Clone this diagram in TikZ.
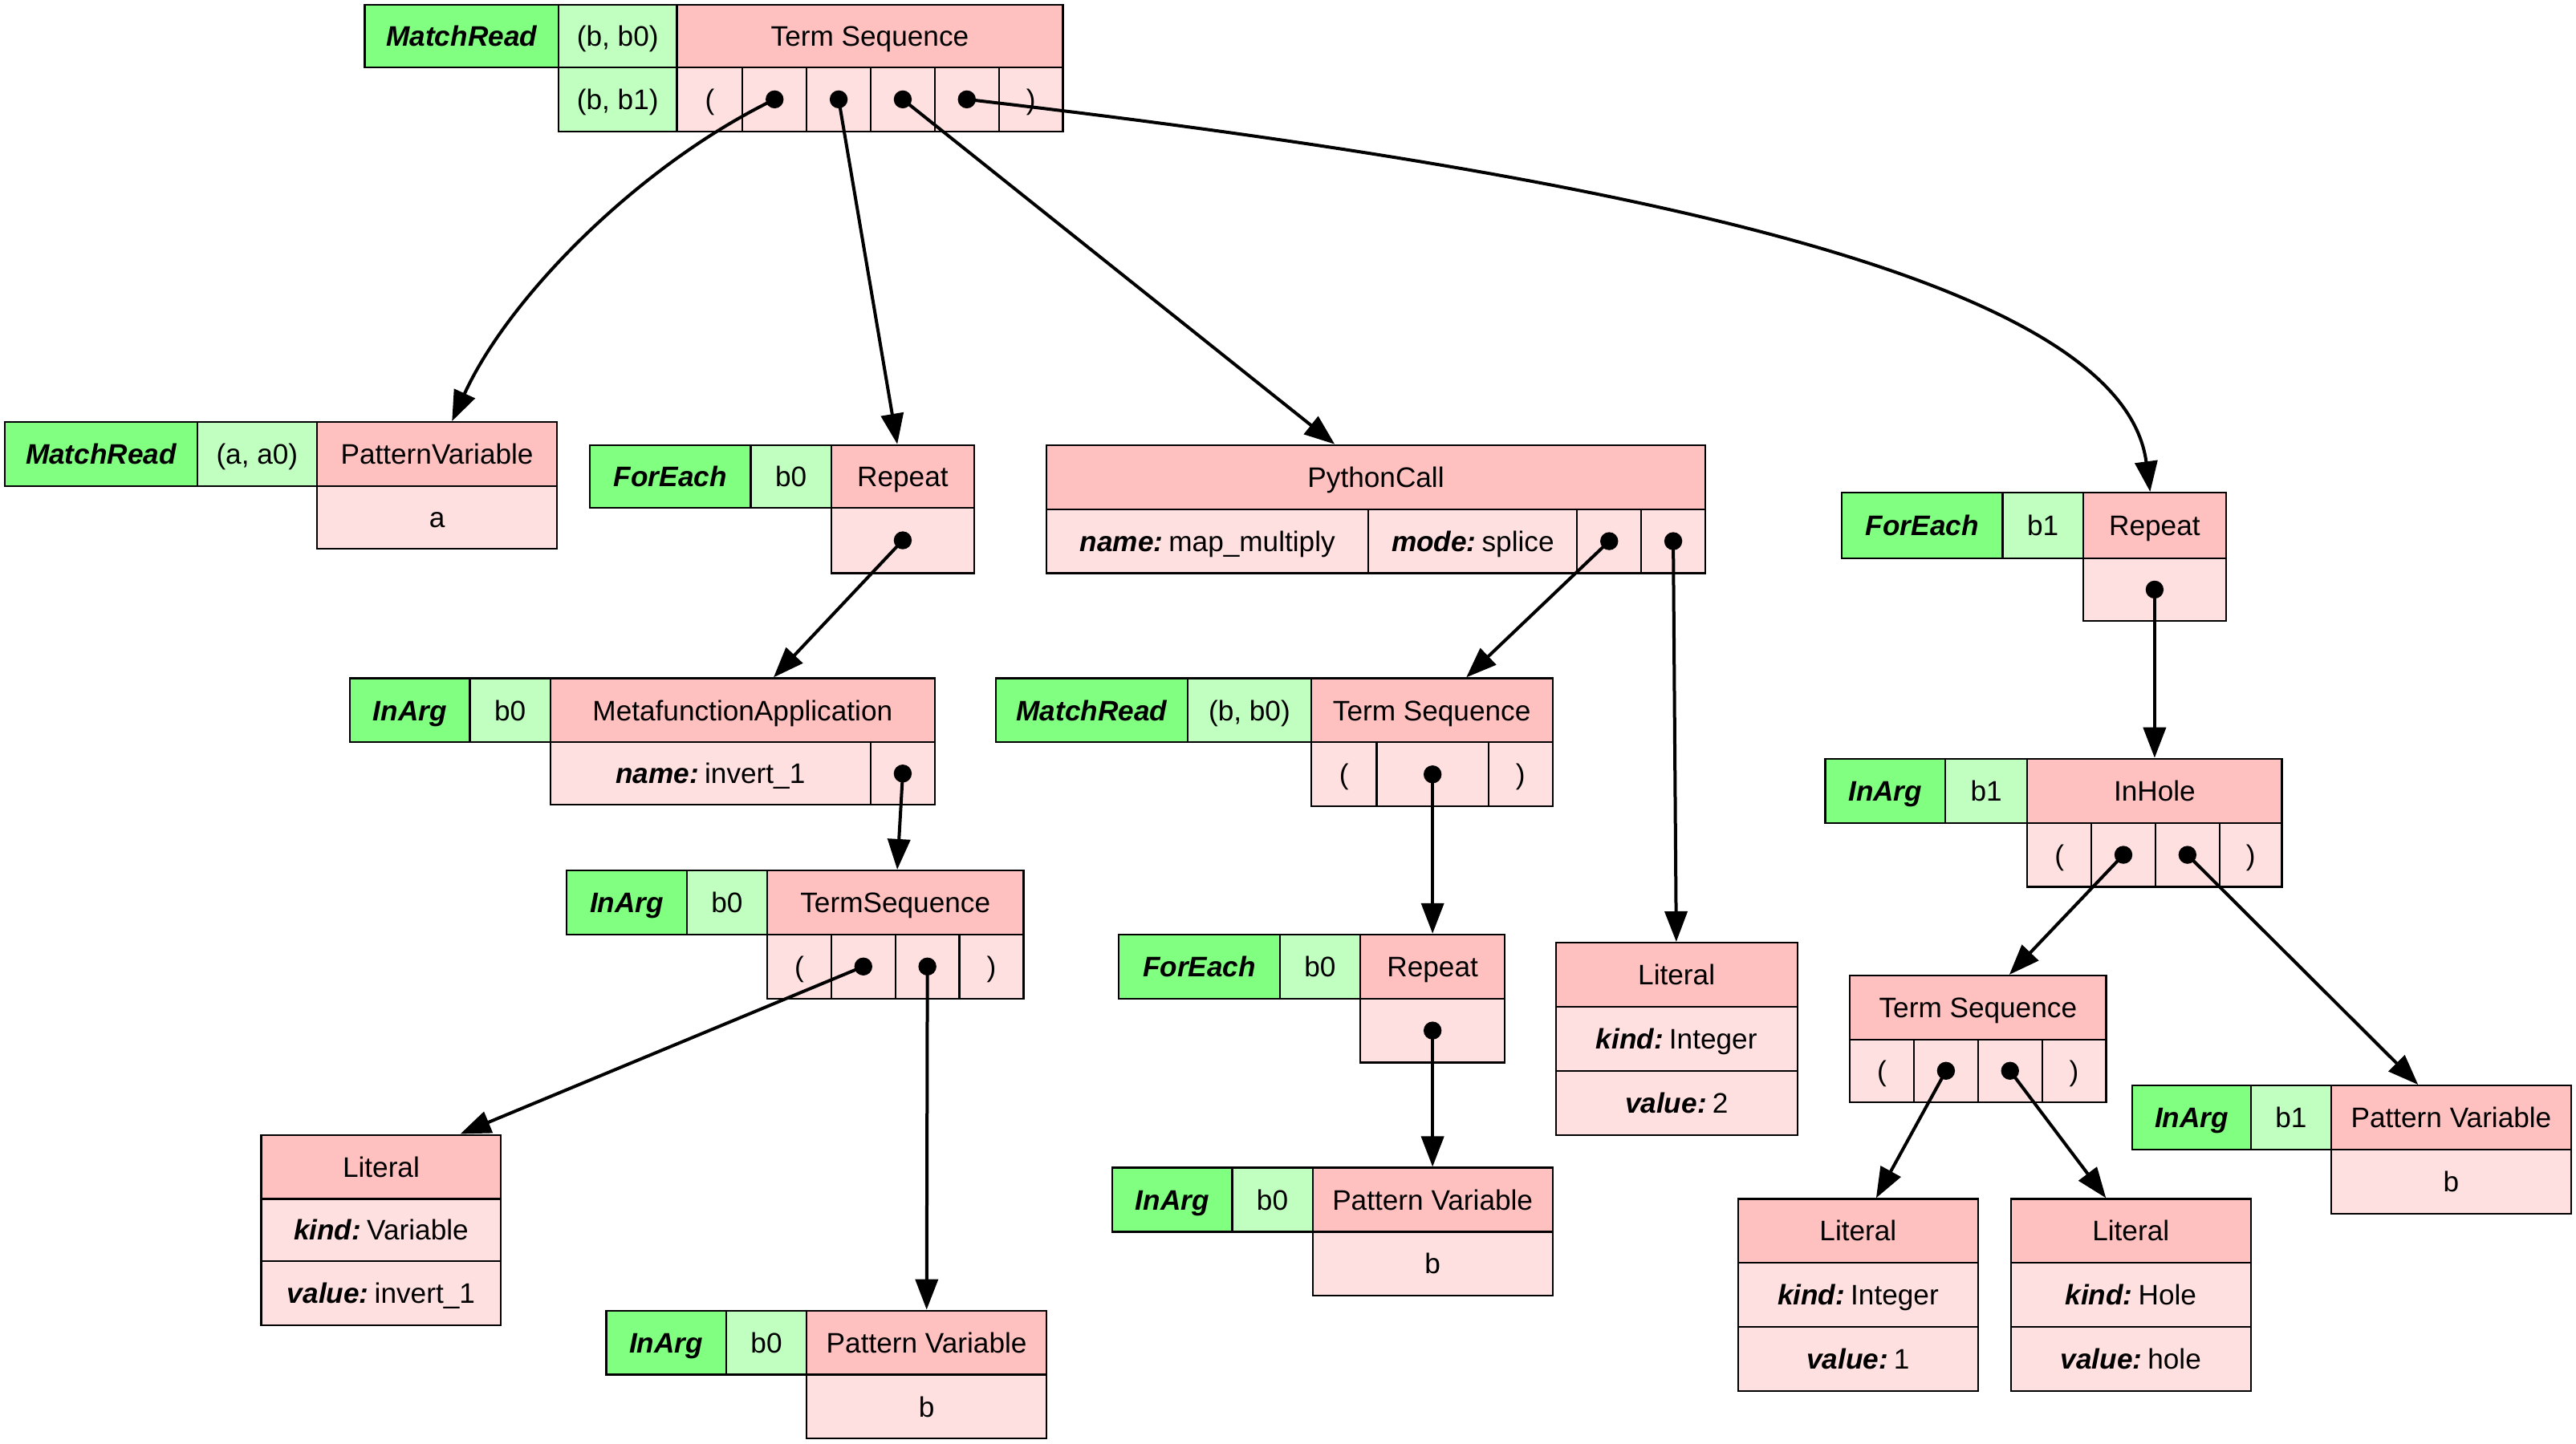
\documentclass[tikz,border=0pt]{standalone}
\usepackage{fontspec}
\setmainfont{Liberation Sans}
\usetikzlibrary{arrows.meta,fit}
\definecolor{tagfill}{RGB}{128,255,128}
\definecolor{varfill}{RGB}{192,255,192}
\definecolor{headfill}{RGB}{255,192,192}
\definecolor{bodyfill}{RGB}{255,224,224}
\newcommand\kw[1]{{\bfseries\itshape #1}}
% a field: bold italic key, then its value
\newcommand\kv[2]{\kw{#1:}\hspace{0.2em}#2}
% one record cell: style, name, corners (x1,y1) (x2,y2), text
\newcommand\rcell[7]{\node[#1, fit={(#3,#4) (#5,#6)}, label={[celltext]center:#7}] (#2) {};}
\begin{document}
\begin{tikzpicture}[x=0.5118pt,y=-0.5118pt,
  font=\fontsize{8.8}{10.5}\selectfont,
  celltext/.style={inner sep=0pt, text height=6.3pt, text depth=0pt,
                   font=\fontsize{8.8}{10.5}\selectfont},
  cell/.style={draw=black, line width=0.55pt, inner sep=0pt},
  tag/.style={cell, fill=tagfill},
  var/.style={cell, fill=varfill},
  head/.style={cell, fill=headfill},
  body/.style={cell, fill=bodyfill},
  tail/.style={circle, fill=black, inner sep=0pt, minimum size=5.6pt},
  edge/.style={line width=1pt, -{Triangle[length=9.5pt,width=7pt]}}]
\useasboundingbox (0,0) rectangle (1568,879);

% --- top: MatchRead (b, b0) Term Sequence
\rcell{tag}{t0tag}{222}{3}{340}{41}{\kw{MatchRead}}
\rcell{var}{t0var}{340}{3}{412}{41}{(b, b0)}
\rcell{head}{t0h}{412}{3}{647}{41}{Term Sequence}
\rcell{var}{t0var2}{340}{41}{412}{80}{(b, b1)}
\rcell{body}{t0c0}{412}{41}{452}{80}{(}
\rcell{body}{t0c1}{452}{41}{491}{80}{}
\rcell{body}{t0c2}{491}{41}{530}{80}{}
\rcell{body}{t0c3}{530}{41}{569}{80}{}
\rcell{body}{t0c4}{569}{41}{608}{80}{}
\rcell{body}{t0c5}{608}{41}{647}{80}{)}
\node[tail] (t0d1) at (t0c1) {};
\node[tail] (t0d2) at (t0c2) {};
\node[tail] (t0d3) at (t0c3) {};
\node[tail] (t0d4) at (t0c4) {};

% --- MatchRead (a, a0) PatternVariable
\rcell{tag}{pvatag}{3}{257}{120}{296}{\kw{MatchRead}}
\rcell{var}{pvavar}{120}{257}{193}{296}{(a, a0)}
\rcell{head}{pvah}{193}{257}{339}{296}{PatternVariable}
\rcell{body}{pvab}{193}{296}{339}{334}{a}

% --- ForEach b0 Repeat
\rcell{tag}{r1tag}{359}{271}{457}{309}{\kw{ForEach}}
\rcell{var}{r1var}{457}{271}{506}{309}{b0}
\rcell{head}{r1h}{506}{271}{593}{309}{Repeat}
\rcell{body}{r1b}{506}{309}{593}{349}{}
\node[tail] (r1d) at (r1b) {};

% --- InArg b0 MetafunctionApplication
\rcell{tag}{mftag}{213}{413}{286}{452}{\kw{InArg}}
\rcell{var}{mfvar}{286}{413}{335}{452}{b0}
\rcell{head}{mfh}{335}{413}{569}{452}{MetafunctionApplication}
\rcell{body}{mfname}{335}{452}{530}{490}{\kv{name}{invert\_1}}
\rcell{body}{mfb}{530}{452}{569}{490}{}
\node[tail] (mfd) at (mfb) {};

% --- InArg b0 TermSequence
\rcell{tag}{tstag}{345}{530}{418}{569}{\kw{InArg}}
\rcell{var}{tsvar}{418}{530}{467}{569}{b0}
\rcell{head}{tsh}{467}{530}{623}{569}{TermSequence}
\rcell{body}{tsc0}{467}{569}{506}{608}{(}
\rcell{body}{tsc1}{506}{569}{545}{608}{}
\rcell{body}{tsc2}{545}{569}{584}{608}{}
\rcell{body}{tsc3}{584}{569}{623}{608}{)}
\node[tail] (tsd1) at (tsc1) {};
\node[tail] (tsd2) at (tsc2) {};

% --- Literal Variable
\rcell{head}{lvh}{159}{691}{305}{730}{Literal}
\rcell{body}{lvk}{159}{730}{305}{768}{\kv{kind}{Variable}}
\rcell{body}{lvv}{159}{768}{305}{807}{\kv{value}{invert\_1}}

% --- InArg b0 Pattern Variable (bottom left)
\rcell{tag}{pvltag}{369}{798}{442}{837}{\kw{InArg}}
\rcell{var}{pvlvar}{442}{798}{491}{837}{b0}
\rcell{head}{pvlh}{491}{798}{637}{837}{Pattern Variable}
\rcell{body}{pvlb}{491}{837}{637}{876}{b}

% --- PythonCall
\rcell{head}{pyh}{637}{271}{1038}{310}{PythonCall}
\rcell{body}{pyn}{637}{310}{833}{349}{\kv{name}{map\_multiply}}
\rcell{body}{pym}{833}{310}{960}{349}{\kv{mode}{splice}}
\rcell{body}{pyc1}{960}{310}{999}{349}{}
\rcell{body}{pyc2}{999}{310}{1038}{349}{}
\node[tail] (pyd1) at (pyc1) {};
\node[tail] (pyd2) at (pyc2) {};

% --- MatchRead (b, b0) Term Sequence (middle)
\rcell{tag}{tmtag}{606}{413}{723}{452}{\kw{MatchRead}}
\rcell{var}{tmvar}{723}{413}{798}{452}{(b, b0)}
\rcell{head}{tmh}{798}{413}{945}{452}{Term Sequence}
\rcell{body}{tmc0}{798}{452}{838}{491}{(}
\rcell{body}{tmc1}{838}{452}{906}{491}{}
\rcell{body}{tmc2}{906}{452}{945}{491}{)}
\node[tail] (tmd) at (tmc1) {};

% --- ForEach b0 Repeat (middle)
\rcell{tag}{r2tag}{681}{569}{779}{608}{\kw{ForEach}}
\rcell{var}{r2var}{779}{569}{828}{608}{b0}
\rcell{head}{r2h}{828}{569}{916}{608}{Repeat}
\rcell{body}{r2b}{828}{608}{916}{647}{}
\node[tail] (r2d) at (r2b) {};

% --- InArg b0 Pattern Variable (middle)
\rcell{tag}{pvmtag}{677}{711}{750}{750}{\kw{InArg}}
\rcell{var}{pvmvar}{750}{711}{799}{750}{b0}
\rcell{head}{pvmh}{799}{711}{945}{750}{Pattern Variable}
\rcell{body}{pvmb}{799}{750}{945}{789}{b}

% --- Literal Integer 2
\rcell{head}{l2h}{947}{574}{1094}{613}{Literal}
\rcell{body}{l2k}{947}{613}{1094}{652}{\kv{kind}{Integer}}
\rcell{body}{l2v}{947}{652}{1094}{691}{\kv{value}{2}}

% --- ForEach b1 Repeat
\rcell{tag}{r3tag}{1121}{300}{1219}{340}{\kw{ForEach}}
\rcell{var}{r3var}{1219}{300}{1268}{340}{b1}
\rcell{head}{r3h}{1268}{300}{1355}{340}{Repeat}
\rcell{body}{r3b}{1268}{340}{1355}{378}{}
\node[tail] (r3d) at (r3b) {};

% --- InArg b1 InHole
\rcell{tag}{ihtag}{1111}{462}{1184}{501}{\kw{InArg}}
\rcell{var}{ihvar}{1184}{462}{1234}{501}{b1}
\rcell{head}{ihh}{1234}{462}{1389}{501}{InHole}
\rcell{body}{ihc0}{1234}{501}{1273}{540}{(}
\rcell{body}{ihc1}{1273}{501}{1312}{540}{}
\rcell{body}{ihc2}{1312}{501}{1351}{540}{}
\rcell{body}{ihc3}{1351}{501}{1389}{540}{)}
\node[tail] (ihd1) at (ihc1) {};
\node[tail] (ihd2) at (ihc2) {};

% --- Term Sequence (inside hole)
\rcell{head}{tih}{1126}{594}{1282}{633}{Term Sequence}
\rcell{body}{tic0}{1126}{633}{1165}{671}{(}
\rcell{body}{tic1}{1165}{633}{1204}{671}{}
\rcell{body}{tic2}{1204}{633}{1243}{671}{}
\rcell{body}{tic3}{1243}{633}{1282}{671}{)}
\node[tail] (tid1) at (tic1) {};
\node[tail] (tid2) at (tic2) {};

% --- InArg b1 Pattern Variable (right)
\rcell{tag}{pvrtag}{1298}{661}{1370}{700}{\kw{InArg}}
\rcell{var}{pvrvar}{1370}{661}{1419}{700}{b1}
\rcell{head}{pvrh}{1419}{661}{1565}{700}{Pattern Variable}
\rcell{body}{pvrb}{1419}{700}{1565}{739}{b}

% --- Literal Integer 1
\rcell{head}{l1h}{1058}{730}{1204}{769}{Literal}
\rcell{body}{l1k}{1058}{769}{1204}{808}{\kv{kind}{Integer}}
\rcell{body}{l1v}{1058}{808}{1204}{847}{\kv{value}{1}}

% --- Literal Hole
\rcell{head}{lhh}{1224}{730}{1370}{769}{Literal}
\rcell{body}{lhk}{1224}{769}{1370}{808}{\kv{kind}{Hole}}
\rcell{body}{lhv}{1224}{808}{1370}{847}{\kv{value}{hole}}

% --- connectors
\draw[edge] (t0d1.center) .. controls (390,100) and (310,180) .. (pvah);
\draw[edge] (t0d2.center) -- (r1h);
\draw[edge] (t0d3.center) -- (pyh);
\draw[edge] (t0d4.center) .. controls (1000,108) and (1292,172) .. (r3h);
\draw[edge] (r1d.center) -- (mfh);
\draw[edge] (mfd.center) -- (tsh);
\draw[edge] (tsd1.center) -- (lvh);
\draw[edge] (tsd2.center) -- (pvlh);
\draw[edge] (pyd1.center) -- (tmh);
\draw[edge] (pyd2.center) -- (l2h);
\draw[edge] (tmd.center) -- (r2h);
\draw[edge] (r2d.center) -- (pvmh);
\draw[edge] (r3d.center) -- (ihh);
\draw[edge] (ihd1.center) -- (tih);
\draw[edge] (ihd2.center) -- (pvrh);
\draw[edge] (tid1.center) -- (l1h);
\draw[edge] (tid2.center) -- (lhh);
\end{tikzpicture}
\end{document}
